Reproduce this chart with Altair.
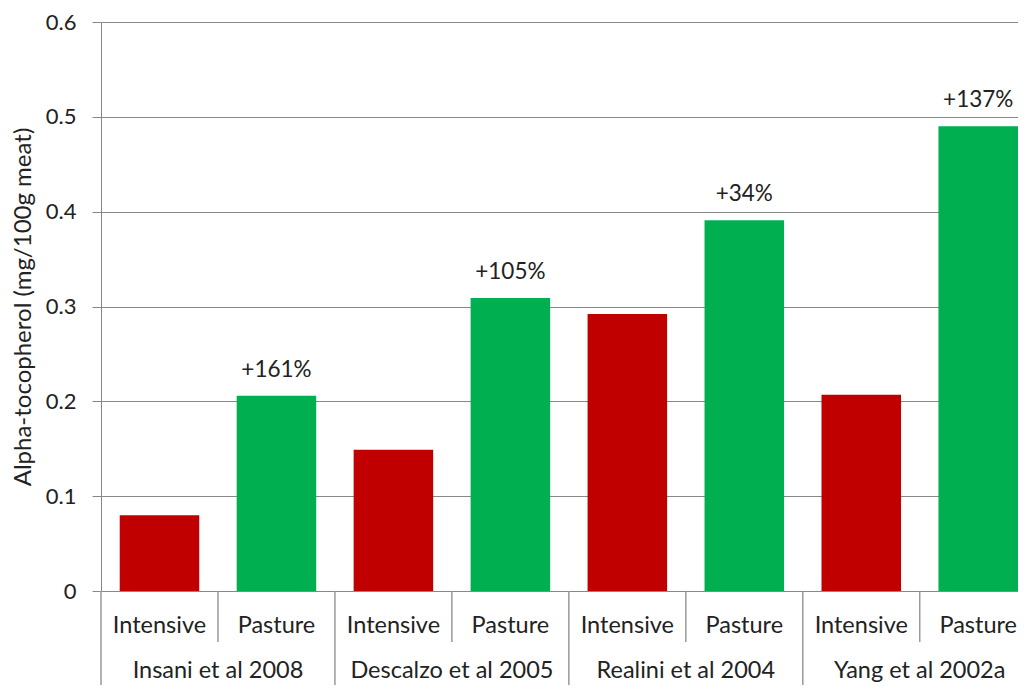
import altair as alt
import pandas as pd

studies = ["Insani et al 2008", "Descalzo et al 2005", "Realini et al 2004", "Yang et al 2002a"]
systems = ["Intensive", "Pasture"]
intensive = [0.080, 0.149, 0.292, 0.207]
pasture = [0.206, 0.309, 0.391, 0.490]
increase = ["+161%", "+105%", "+34%", "+137%"]

FONT = "Lato"
rows = []
for g, s in enumerate(studies):
    for k, (sysname, vals) in enumerate(zip(systems, [intensive, pasture])):
        idx = g * 2 + k
        rows.append({"study": s, "system": sysname, "value": vals[g], "idx": idx,
                     "x0": idx + 0.16, "x1": idx + 0.84, "xc": idx + 0.5,
                     "lab": increase[g] if sysname == "Pasture" else ""})
df = pd.DataFrame(rows)
grp = pd.DataFrame({"study": studies, "xc": [g * 2 + 1 for g in range(len(studies))],
                    "sep": [g * 2 for g in range(len(studies))]})
inner = pd.DataFrame({"sep": [g * 2 + 1 for g in range(len(studies))]})

# the reference's plot area ends right after the last bar
W = 917
xs = alt.Scale(domain=[0, 7.84], nice=False, zero=False)
H = 569

bars = alt.Chart(df).mark_bar(clip=True).encode(
    x=alt.X("x0:Q", scale=xs, axis=None),
    x2="x1:Q",
    y=alt.Y("value:Q", scale=alt.Scale(domain=[0, 0.6], nice=False),
            axis=alt.Axis(values=[0, 0.1, 0.2, 0.3, 0.4, 0.5, 0.6],
                          labelExpr="datum.value == 0 ? '0' : format(datum.value, '.1f')",
                          title="Alpha-tocopherol (mg/100g meat)",
                          titleFont=FONT, titleFontSize=24, titleFontWeight="normal",
                          titleColor="#222", titlePadding=10,
                          labelFont=FONT, labelFontSize=22, labelColor="#222",
                          labelPadding=16, tickSize=9, tickColor="#888",
                          domainColor="#888", gridColor="#888", grid=True)),
    y2=alt.datum(0),
    color=alt.Color("system:N", scale=alt.Scale(domain=systems, range=["#C00000", "#00B050"]), legend=None),
)

ann = alt.Chart(df[df["lab"] != ""]).mark_text(font=FONT, fontSize=22.5, color="#222",
                                                baseline="bottom", dy=-14).encode(
    x=alt.X("xc:Q", scale=xs), y="value:Q", text="lab:N")

cat_text = alt.Chart(df).mark_text(font=FONT, fontSize=23.5, color="#222", baseline="middle").encode(
    x=alt.X("xc:Q", scale=xs), y=alt.value(H + 35), text="system:N")

grp_text = alt.Chart(grp).mark_text(font=FONT, fontSize=23.5, color="#222", baseline="middle").encode(
    x=alt.X("xc:Q", scale=xs), y=alt.value(H + 80), text="study:N")

inner_rules = alt.Chart(inner).mark_rule(color="#999", strokeWidth=1.5).encode(
    x=alt.X("sep:Q", scale=xs), y=alt.value(H), y2=alt.value(H + 51))

grp_rules = alt.Chart(grp).mark_rule(color="#999", strokeWidth=1.5).encode(
    x=alt.X("sep:Q", scale=xs), y=alt.value(H), y2=alt.value(H + 94))

chart = alt.layer(bars, ann, cat_text, grp_text, inner_rules, grp_rules).properties(
    width=W, height=H,
    autosize=alt.AutoSizeParams(type="none"),
    padding={"left": 93, "top": 14, "right": 0, "bottom": 94},
).configure_view(stroke=None).configure_axis(gridWidth=1)

chart.save("out.html", embed_options={"renderer": "svg", "actions": False})
